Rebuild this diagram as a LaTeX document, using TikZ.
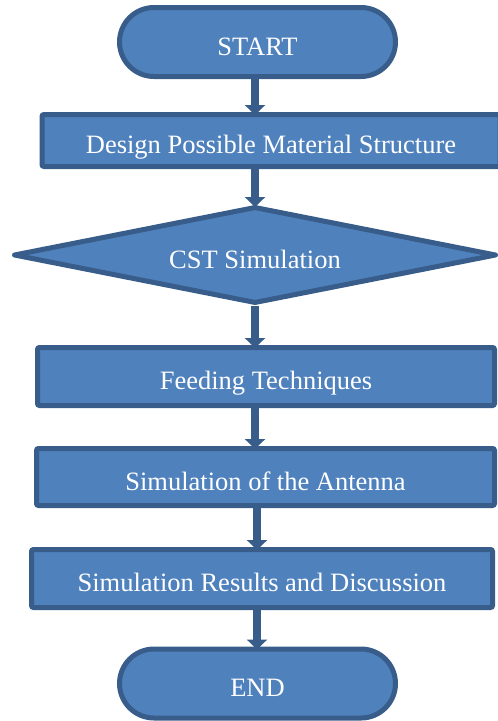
\documentclass[tikz,border=0pt]{standalone}
\usepackage{fontspec}
\setmainfont{Liberation Serif}
\usetikzlibrary{shapes.geometric,arrows.meta}

\definecolor{boxfill}{HTML}{4F81BD}
\definecolor{boxline}{HTML}{385D8A}

\tikzset{
  stepbox/.style={draw=boxline, fill=boxfill, line width=5pt, rounded corners=2pt,
    text=white, font=\fontsize{26.5}{30}\selectfont, text height=26pt, text depth=0pt,
    minimum width=458pt, minimum height=57pt},
  termbox/.style={stepbox, rounded corners=34.5pt, minimum width=276pt, minimum height=69pt},
  testbox/.style={draw=boxline, fill=boxfill, line width=5pt, line join=round, diamond, aspect=5,
    inner sep=0pt, text=white, font=\fontsize{26.5}{30}\selectfont, text height=26pt, text depth=0pt,
    minimum width=483pt, minimum height=97pt},
  flow/.style={draw=boxline, line width=8pt, -{Triangle[width=20pt,length=10pt]}, shorten >=-3pt}
}

\begin{document}
\begin{tikzpicture}[x=1pt,y=-1pt]
  % Fix the page size
  \useasboundingbox (0,0) rectangle (498,721);

  % Draw the steps
  \node[termbox] (start) at (257.5,42) {START};
  \node[stepbox, minimum height=52pt] (design) at (271,140.5) {Design Possible Material Structure};
  \node[testbox] (cst) at (255,255) {CST Simulation};
  \node[stepbox, minimum width=457pt, minimum height=58pt] (feed) at (266,376.5) {Feeding Techniques};
  \node[stepbox] (antenna) at (265.5,477) {Simulation of the Antenna};
  \node[stepbox, minimum width=461pt, minimum height=58pt] (results) at (262,578.5) {Simulation Results and Discussion};
  \node[termbox] (end) at (257.5,683.5) {END};

  % Show the flow
  \coordinate (axis) at (255,0);
  \coordinate (axisb) at (257,0);
  \draw[flow] (axis |- start.south) -- (axis |- design.north);
  \draw[flow] (axis |- design.south) -- (axis |- cst.north);
  \draw[flow] (axis |- cst.south) -- (axis |- feed.north);
  \draw[flow] (axis |- feed.south) -- (axis |- antenna.north);
  \draw[flow] (axisb |- antenna.south) -- (axisb |- results.north);
  \draw[flow] (axisb |- results.south) -- (axisb |- end.north);
\end{tikzpicture}
\end{document}
